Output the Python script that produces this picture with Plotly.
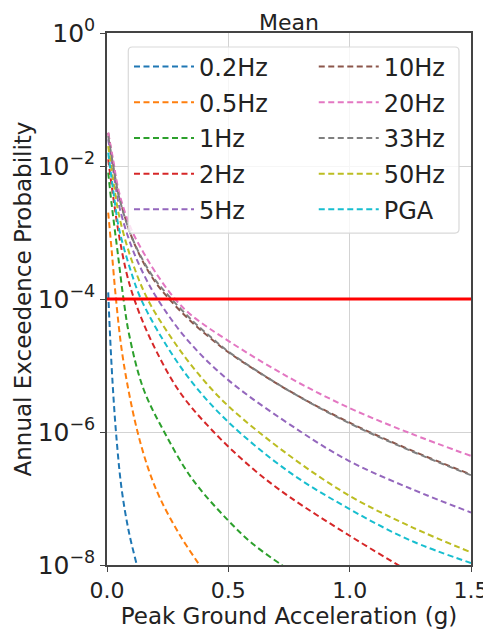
import numpy as np
import plotly.graph_objects as go

# ---- data (x in g, values are log10 of annual exceedance probability) ----
labels = ["0.2Hz", "0.5Hz", "1Hz", "2Hz", "5Hz", "10Hz", "20Hz", "33Hz", "50Hz", "PGA"]
colors = ["#1f77b4", "#ff7f0e", "#2ca02c", "#d62728", "#9467bd",
          "#8c564b", "#e377c2", "#7f7f7f", "#bcbd22", "#17becf"]

x_02 = [0.005, 0.012, 0.022, 0.037, 0.06, 0.09, 0.123, 0.13]
lg_02 = [-3.9, -4.5, -5.2, -6.0, -6.85, -7.5, -8.0, -8.1]

x_05 = [0.005, 0.019, 0.037, 0.06, 0.09, 0.126, 0.17, 0.219, 0.3, 0.381, 0.39]
lg_05 = [-2.7, -3.26, -4.0, -4.75, -5.4, -6.0, -6.55, -7.0, -7.55, -8.0, -8.05]

x_1 = [0.005, 0.02, 0.044, 0.068, 0.092, 0.15, 0.236, 0.35, 0.494, 0.6, 0.72, 0.74]
lg_1 = [-2.1, -2.6, -3.3, -4.0, -4.55, -5.35, -6.0, -6.7, -7.31, -7.68, -8.0, -8.05]

x_2 = [0.005, 0.025, 0.05, 0.08, 0.112, 0.18, 0.3, 0.44, 0.6, 0.75, 1.0, 1.2, 1.25]
lg_2 = [-1.9, -2.45, -3.05, -3.6, -4.0, -4.61, -5.4, -6.0, -6.55, -6.97, -7.56, -8.0, -8.1]

x_5 = [0.005, 0.025, 0.05, 0.1, 0.15, 0.208, 0.33, 0.5, 0.8, 1.0, 1.25, 1.5]
lg_5 = [-1.6, -2.05, -2.6, -3.2, -3.62, -4.0, -4.61, -5.22, -6.0, -6.44, -6.85, -7.21]

x_10 = [0.005, 0.025, 0.05, 0.1, 0.15, 0.2, 0.256, 0.35, 0.43, 0.5, 0.75, 1.0, 1.25, 1.5]
lg_10 = [-1.5, -1.95, -2.45, -3.05, -3.45, -3.75, -4.0, -4.35, -4.6, -4.8, -5.38, -5.86, -6.27, -6.64]

x_20 = [0.005, 0.025, 0.05, 0.1, 0.15, 0.2, 0.28, 0.35, 0.5, 0.75, 1.0, 1.25, 1.5]
lg_20 = [-1.5, -1.9, -2.4, -2.95, -3.3, -3.6, -4.0, -4.25, -4.63, -5.18, -5.64, -6.02, -6.36]

x_33 = [0.005, 0.025, 0.05, 0.1, 0.15, 0.2, 0.256, 0.35, 0.43, 0.5, 0.75, 1.0, 1.25, 1.5]
lg_33 = [-1.55, -1.98, -2.47, -3.05, -3.43, -3.72, -3.96, -4.32, -4.58, -4.79, -5.38, -5.87, -6.28, -6.65]

x_50 = [0.005, 0.025, 0.05, 0.1, 0.167, 0.27, 0.375, 0.5, 0.75, 1.0, 1.25, 1.5]
lg_50 = [-1.7, -2.2, -2.75, -3.4, -4.0, -4.61, -5.12, -5.61, -6.35, -6.96, -7.42, -7.81]

x_pga = [0.005, 0.025, 0.05, 0.1, 0.14, 0.23, 0.35, 0.5, 0.75, 1.0, 1.25, 1.5]
lg_pga = [-1.8, -2.35, -2.95, -3.6, -4.0, -4.61, -5.25, -5.85, -6.6, -7.16, -7.63, -7.97]

series_x = [x_02, x_05, x_1, x_2, x_5, x_10, x_20, x_33, x_50, x_pga]
series_lg = [lg_02, lg_05, lg_1, lg_2, lg_5, lg_10, lg_20, lg_33, lg_50, lg_pga]

threshold = 1e-4
threshold_x = [0.0, 1.5]

x_ticks = [0.0, 0.5, 1.0, 1.5]
x_tick_text = ["0.0", "0.5", "1.0", "1.5"]
y_ticks = [1e-8, 1e-6, 1e-4, 1e-2, 1e0]
y_tick_text = ["10<sup>\u22128</sup>", "10<sup>\u22126</sup>", "10<sup>\u22124</sup>",
               "10<sup>\u22122</sup>", "10<sup>0</sup>"]

FONT = "DejaVu Sans"
TXT = "#222222"

fig = go.Figure()
for i, (lab, col, xs, lg) in enumerate(zip(labels, colors, series_x, series_lg)):
    fig.add_trace(go.Scatter(
        x=xs, y=10.0 ** np.array(lg), mode="lines", name=lab,
        line=dict(color=col, width=2, dash="6px,3.5px", shape="spline", smoothing=1.0),
        legend="legend" if i < 5 else "legend2", legendgroup=lab,
    ))

fig.add_trace(go.Scatter(
    x=threshold_x, y=[threshold, threshold], mode="lines",
    line=dict(color="#ff0000", width=3), showlegend=False,
))

# legend frame (matplotlib-like rounded box)
x0, x1, y0, y1 = 0.0585, 0.967, 0.624, 0.9737
rx, ry = 0.011, 0.0075
path = (f"M{x0+rx},{y1} L{x1-rx},{y1} Q{x1},{y1} {x1},{y1-ry} L{x1},{y0+ry} "
        f"Q{x1},{y0} {x1-rx},{y0} L{x0+rx},{y0} Q{x0},{y0} {x0},{y0+ry} "
        f"L{x0},{y1-ry} Q{x0},{y1} {x0+rx},{y1} Z")
fig.add_shape(type="path", path=path, xref="paper", yref="paper",
              line=dict(color="#d9d9d9", width=1.2),
              fillcolor="rgba(255,255,255,0.8)", layer="above")

axis_common = dict(
    showline=True, linecolor="#444444", linewidth=1.5, mirror=True,
    ticks="outside", ticklen=5, tickwidth=1.3, tickcolor="#444444",
    showgrid=True, gridcolor="#d3d3d3", gridwidth=1.3,
    zeroline=False, automargin=False,
)

legend_common = dict(
    xanchor="left", yanchor="top", bgcolor="rgba(0,0,0,0)", borderwidth=0,
    itemwidth=60, traceorder="grouped", tracegroupgap=1.5,
    font=dict(family=FONT, size=24, color=TXT),
)

# the page adds an 8px body margin, so the figure is drawn 8px right/down
fig.update_layout(
    width=483, height=622,
    margin=dict(l=99, r=20, t=25, b=65),
    paper_bgcolor="white", plot_bgcolor="white",
    font=dict(family=FONT, color=TXT),
    title=dict(text="Mean", x=0.5, xanchor="center", xref="paper",
               y=0.9775, yanchor="middle", yref="container",
               font=dict(family=FONT, size=22, color=TXT)),
    xaxis=dict(range=[0, 1.5], tickvals=x_ticks, ticktext=x_tick_text,
               tickfont=dict(family=FONT, size=22, color=TXT),
               title=dict(text="Peak Ground Acceleration (g)", standoff=2,
                          font=dict(family=FONT, size=23, color=TXT)),
               **axis_common),
    yaxis=dict(type="log", range=[-8, 0], tickvals=y_ticks, ticktext=y_tick_text,
               tickfont=dict(family=FONT, size=25, color=TXT),
               title=dict(text="Annual Exceedence Probability", standoff=0,
                          font=dict(family=FONT, size=23, color=TXT)),
               **axis_common),
    legend=dict(x=0.0604, y=0.9785, **legend_common),
    legend2=dict(x=0.568, y=0.9785, **legend_common),
    showlegend=True,
)

fig.write_html("out.html")
